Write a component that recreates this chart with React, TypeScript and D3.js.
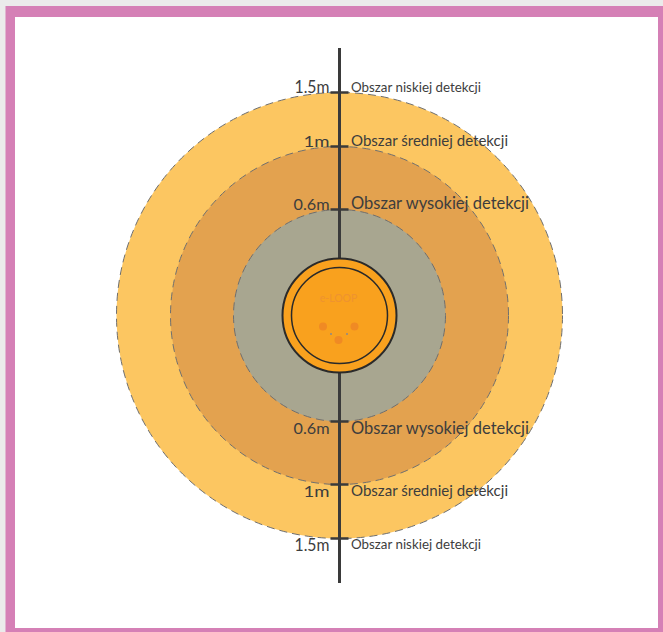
import React from "react";
import * as d3 from "d3";

// distances (m) of the detection zones, outermost first
const distances = [1.5, 1, 0.6];
const distanceLabels = ["1.5m", "1m", "0.6m"];
const zoneNames = ["Obszar niskiej detekcji", "Obszar średniej detekcji", "Obszar wysokiej detekcji"];
const zoneColors = ["#FCC661", "#E3A24F", "#A8A690"];
const deviceName = "e-LOOP";

const W = 663;
const H = 632;
const cx = 339.5;
const cy = 315.5;

// radius scale (drawing is not to scale, piecewise)
const r = d3.scaleLinear().domain([0, 0.6, 1, 1.5]).range([0, 106, 169, 223]);

const nameSizes = [13.5, 15, 17];
const nameWidths = [130, 157, 178];
const distSizes = [17, 16, 16];
const distWidths = [35, 26, 36];

export default function App() {
  const textColor = "#3d3d3d";
  const font = "Lato, 'Open Sans', sans-serif";
  const labels: any[] = [];
  distances.forEach((d, i) => {
    [-1, 1].forEach((side) => {
      const ty = cy + side * r(d);
      const base = side < 0 ? ty : ty + distSizes[i] * 0.75;
      labels.push(
        <g key={`l${i}${side}`}>
          <line x1={cx - 9} x2={cx + 9} y1={ty} y2={ty} stroke="#3a3a3a" strokeWidth={2.5} />
          <text
            x={cx - 10}
            y={base}
            textAnchor="end"
            fontSize={distSizes[i]}
            fill={textColor}
            fontFamily={font}
            textLength={distWidths[i]}
            lengthAdjust="spacingAndGlyphs"
          >
            {distanceLabels[i]}
          </text>
          <text
            x={cx + 11.5}
            y={side < 0 ? ty - 1 : ty + nameSizes[i] * 0.75}
            fontSize={nameSizes[i]}
            fill={textColor}
            fontFamily={font}
            textLength={nameWidths[i]}
            lengthAdjust="spacingAndGlyphs"
          >
            {zoneNames[i]}
          </text>
        </g>
      );
    });
  });

  return (
    <svg width={W} height={H} style={{ position: "absolute", left: 0, top: 0 }}>
      <rect x={0} y={0} width={W} height={H} fill="#EBEBEB" />
      <rect x={5.5} y={6} width={W - 5.5} height={H - 6} fill="#D580B6" />
      <rect x={15} y={17} width={643} height={611} fill="#FFFFFF" />

      {distances.map((d, i) => (
        <circle
          key={i}
          cx={cx}
          cy={cy}
          r={r(d)}
          fill={zoneColors[i]}
          stroke="#6f6f6f"
          strokeWidth={1}
          strokeDasharray="8 5"
        />
      ))}

      <line x1={cx} x2={cx} y1={48} y2={583} stroke="#3a3a3a" strokeWidth={3} />

      {/* device */}
      <circle cx={cx} cy={cy} r={57} fill="#F9A11E" stroke="#2a2a2a" strokeWidth={2} />
      <circle cx={cx} cy={cy} r={48} fill="none" stroke="#2a2a2a" strokeWidth={1.5} />
      <text x={cx - 1} y={cy - 14} textAnchor="middle" fontSize={10.5} fill="#EE9330" fontFamily={font}>
        {deviceName}
      </text>
      <circle cx={cx - 16.5} cy={cy + 11} r={4} fill="#F08A24" />
      <circle cx={cx + 15} cy={cy + 11} r={4} fill="#F08A24" />
      <circle cx={cx - 1} cy={cy + 24.5} r={4} fill="#F08A24" />
      <circle cx={cx - 8.5} cy={cy + 18.5} r={1} fill="#8a8a8a" />
      <circle cx={cx + 7.5} cy={cy + 18.5} r={1} fill="#8a8a8a" />

      {labels}
    </svg>
  );
}
